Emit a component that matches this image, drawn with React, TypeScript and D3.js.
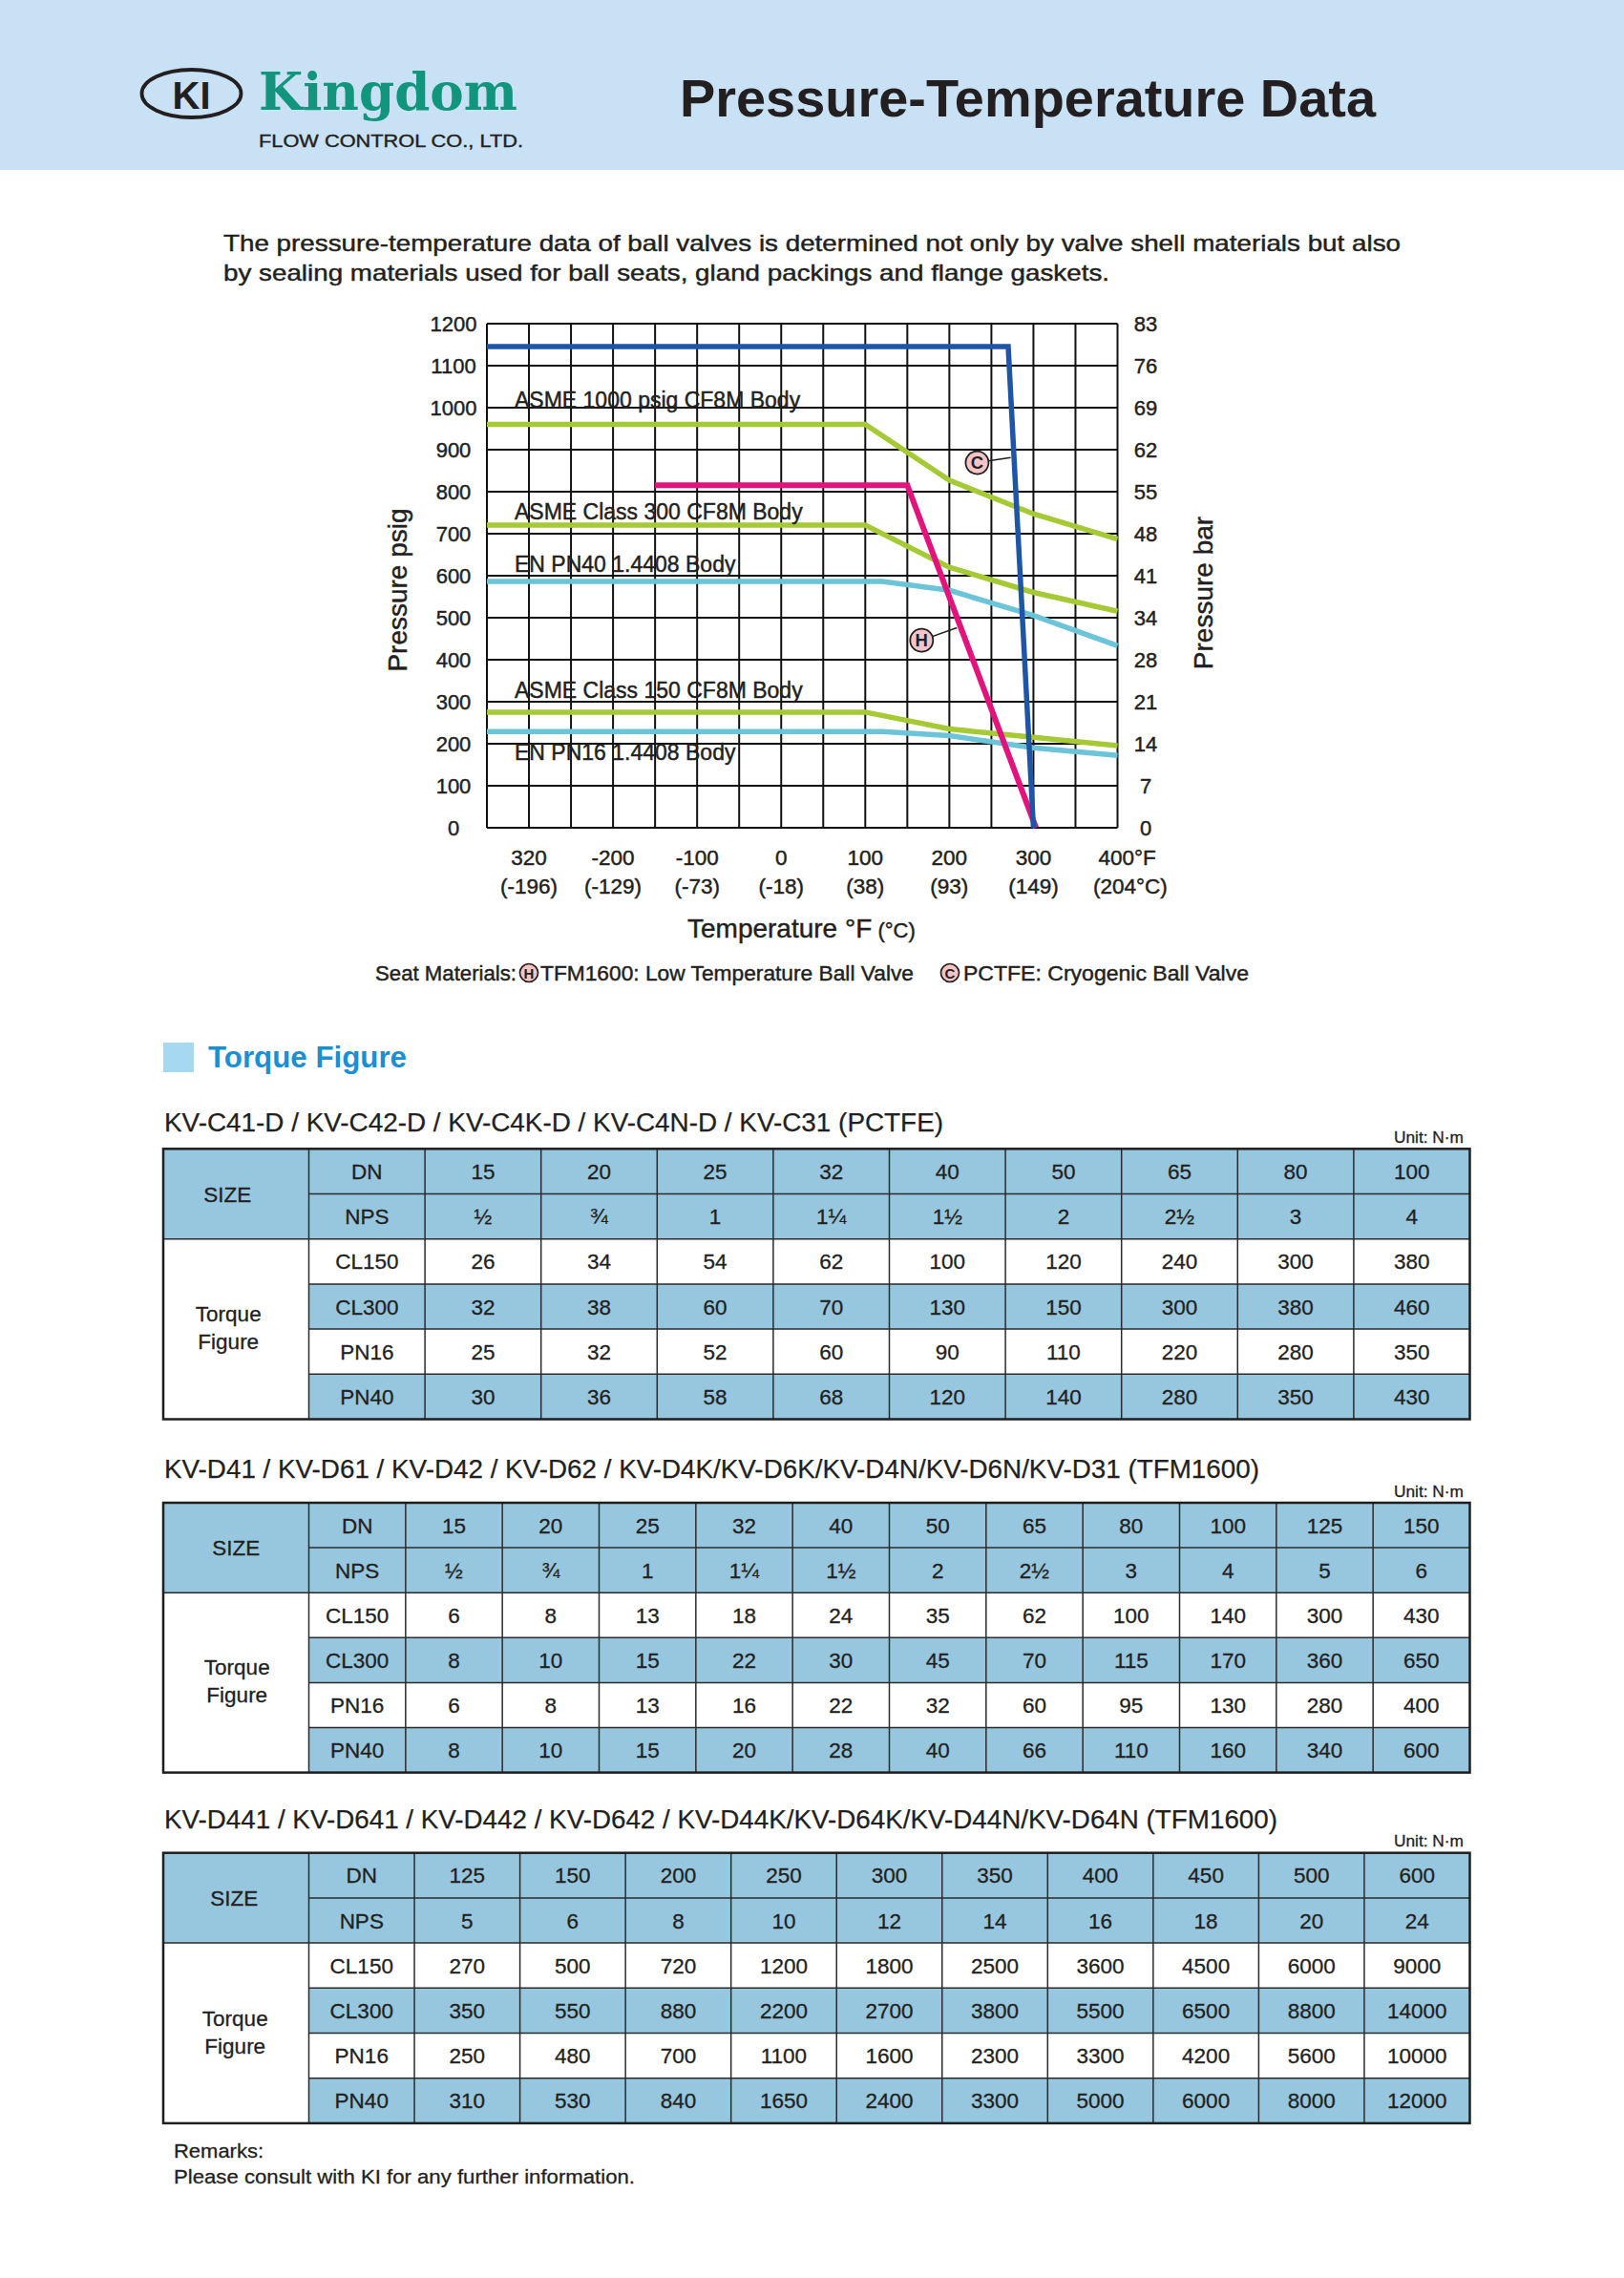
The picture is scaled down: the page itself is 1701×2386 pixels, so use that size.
import React from "react";
import * as d3 from "d3";

// ---------------- DATA ----------------
const tempTicksF = [-320, -200, -100, 0, 100, 200, 300, 400];
const tempLabelsF = ["320", "-200", "-100", "0", "100", "200", "300", "400°F"];
const tempLabelsC = ["(-196)", "(-129)", "(-73)", "(-18)", "(38)", "(93)", "(149)", "(204°C)"];
const psigTicks = [0, 100, 200, 300, 400, 500, 600, 700, 800, 900, 1000, 1100, 1200];
const barLabels = ["0", "7", "14", "21", "28", "34", "41", "48", "55", "62", "69", "76", "83"];

const asme1000: [number, number][] = [[-380, 960], [100, 960], [200, 827], [300, 747], [400, 687]];
const asme300: [number, number][] = [[-380, 720], [100, 720], [200, 620], [300, 560], [400, 515]];
const pn40: [number, number][] = [[-380, 586], [120, 586], [200, 565], [300, 505], [400, 433]];
const asme150: [number, number][] = [[-380, 275], [100, 275], [200, 235], [300, 215], [400, 195]];
const pn16: [number, number][] = [[-380, 229], [120, 229], [200, 219], [300, 190], [400, 172]];
const tfm1600: [number, number][] = [[-150, 815], [150, 815], [303, 0]];
const pctfe: [number, number][] = [[-380, 1145], [270, 1145], [300, 0]];

const seriesLabels = ["ASME 1000 psig CF8M Body", "ASME Class 300 CF8M Body", "EN PN40 1.4408 Body", "ASME Class 150 CF8M Body", "EN PN16 1.4408 Body"];
const seriesLabelPsi = [1000, 735, 610, 310, 161];

const markerLetters = ["H", "C"];
const markerPos: [number, number][] = [[167, 446], [233, 869]];
const markerLead: [number, number][] = [[209, 476], [273, 881]];

// Tables
const t1DN = ["15", "20", "25", "32", "40", "50", "65", "80", "100"];
const t1NPS = ["½", "¾", "1", "1¼", "1½", "2", "2½", "3", "4"];
const t1CL150 = [26, 34, 54, 62, 100, 120, 240, 300, 380];
const t1CL300 = [32, 38, 60, 70, 130, 150, 300, 380, 460];
const t1PN16 = [25, 32, 52, 60, 90, 110, 220, 280, 350];
const t1PN40 = [30, 36, 58, 68, 120, 140, 280, 350, 430];

const t2DN = ["15", "20", "25", "32", "40", "50", "65", "80", "100", "125", "150"];
const t2NPS = ["½", "¾", "1", "1¼", "1½", "2", "2½", "3", "4", "5", "6"];
const t2CL150 = [6, 8, 13, 18, 24, 35, 62, 100, 140, 300, 430];
const t2CL300 = [8, 10, 15, 22, 30, 45, 70, 115, 170, 360, 650];
const t2PN16 = [6, 8, 13, 16, 22, 32, 60, 95, 130, 280, 400];
const t2PN40 = [8, 10, 15, 20, 28, 40, 66, 110, 160, 340, 600];

const t3DN = ["125", "150", "200", "250", "300", "350", "400", "450", "500", "600"];
const t3NPS = ["5", "6", "8", "10", "12", "14", "16", "18", "20", "24"];
const t3CL150 = [270, 500, 720, 1200, 1800, 2500, 3600, 4500, 6000, 9000];
const t3CL300 = [350, 550, 880, 2200, 2700, 3800, 5500, 6500, 8800, 14000];
const t3PN16 = [250, 480, 700, 1100, 1600, 2300, 3300, 4200, 5600, 10000];
const t3PN40 = [310, 530, 840, 1650, 2400, 3300, 5000, 6000, 8000, 12000];

const rowLabels = ["CL150", "CL300", "PN16", "PN40"];

// ---------------- STYLE ----------------
const FONT = "'Liberation Sans', Arial, Helvetica, sans-serif";
const INK = "#231f20";
const CELL_BLUE = "#96c7de";
const GREEN = "#a6c936";
const CYAN = "#6cc4d8";
const MAGENTA = "#e2137c";
const BLUE = "#1e55a5";

const PL = 510, PR = 1170.5, PT = 338.9, PB = 866.9;

function Table(props: {
  top: number; rowH: number; dn: string[]; nps: string[]; rows: number[][];
  title: string; titleLen: number; titleGap: number; sizeDx: number;
}) {
  const { top, rowH, dn, nps, rows, title, titleLen, titleGap, sizeDx } = props;
  const left = 171, width = 1368.5, sizeW = 152.5;
  const right = left + width;
  const ncols = dn.length + 1;
  const col = d3.scaleBand<number>().domain(d3.range(ncols)).range([left + sizeW, right]).padding(0);
  const cw = col.bandwidth();
  const rowY = (r: number) => top + r * rowH;
  const base = (r: number) => rowY(r) + rowH / 2 + 8;
  const bodyC = top + 4 * rowH;
  const sizeCx = left + sizeW / 2 + sizeDx;
  const rowsText: string[][] = [
    ["DN", ...dn],
    ["NPS", ...nps],
    ...rows.map((vals, i) => [rowLabels[i], ...vals.map(String)]),
  ];
  return (
    <g fontFamily={FONT} fill={INK}>
      <text x={left + 1} y={top - titleGap} fontSize={27} textLength={titleLen} lengthAdjust="spacingAndGlyphs" stroke={INK} strokeWidth={0.25}>{title}</text>
      <text x={1533} y={top - 6.5} fontSize={16.5} textAnchor="end" textLength={73} lengthAdjust="spacingAndGlyphs" stroke={INK} strokeWidth={0.3}>Unit: N·m</text>
      {/* fills */}
      <rect x={left} y={top} width={width} height={2 * rowH} fill={CELL_BLUE} />
      <rect x={left + sizeW} y={rowY(3)} width={width - sizeW} height={rowH} fill={CELL_BLUE} />
      <rect x={left + sizeW} y={rowY(5)} width={width - sizeW} height={rowH} fill={CELL_BLUE} />
      {/* lines */}
      <g stroke="#2b2b2b" strokeWidth={1.5}>
        {d3.range(ncols).map((i) => (
          <line key={"v" + i} x1={col(i)!} x2={col(i)!} y1={top} y2={rowY(6)} />
        ))}
        <line x1={left + sizeW} x2={right} y1={rowY(1)} y2={rowY(1)} />
        <line x1={left} x2={right} y1={rowY(2)} y2={rowY(2)} />
        {[3, 4, 5].map((r) => (
          <line key={"h" + r} x1={left + sizeW} x2={right} y1={rowY(r)} y2={rowY(r)} />
        ))}
      </g>
      <rect x={left} y={top} width={width} height={6 * rowH} fill="none" stroke="#1e1e1e" strokeWidth={2.5} />
      {/* text */}
      <g fontSize={22.5} textAnchor="middle" stroke={INK} strokeWidth={0.3}>
        <text x={sizeCx} y={top + rowH + 8}>SIZE</text>
        <text x={sizeCx + 1} y={bodyC - 8}>Torque</text>
        <text x={sizeCx + 1} y={bodyC + 21}>Figure</text>
        {rowsText.map((cells, r) =>
          cells.map((c, i) => (
            <text key={r + "-" + i} x={col(i)! + cw / 2} y={base(r)}>{c}</text>
          ))
        )}
      </g>
    </g>
  );
}

export default function App() {
  const gx = d3.scaleLinear().domain([0, 15]).range([PL, PR]);
  const x = d3.scaleLinear().domain([-380, -200, 400]).range([PL, gx(3), PR]);
  const y = d3.scaleLinear().domain([0, 1200]).range([PB, PT]);
  const line = d3.line<[number, number]>().x((d) => x(d[0])).y((d) => y(d[1]));

  const series = [
    { d: asme1000, c: GREEN, w: 5.5 },
    { d: asme300, c: GREEN, w: 5.5 },
    { d: asme150, c: GREEN, w: 5.5 },
    { d: pn40, c: CYAN, w: 5.5 },
    { d: pn16, c: CYAN, w: 5.5 },
    { d: tfm1600, c: MAGENTA, w: 6 },
    { d: pctfe, c: BLUE, w: 5.5 },
  ];

  const med = { stroke: INK, strokeWidth: 0.45 } as const;

  return (
    <svg width={1701} height={2386} viewBox="0 0 1701 2386"
      style={{ position: "absolute", left: 0, top: 0, display: "block", background: "#fff" }}
      fontFamily={FONT}>
      {/* Header band */}
      <rect x={0} y={0} width={1701} height={178} fill="#c8e1f4" />
      <ellipse cx={200.5} cy={98} rx={52} ry={25} fill="none" stroke="#231f20" strokeWidth={3.8} />
      <text x={200.5} y={114} fontSize={41} fontWeight="bold" textAnchor="middle" fill={INK} textLength={40} lengthAdjust="spacingAndGlyphs">KI</text>
      <text x={271} y={115} fontSize={54} fontWeight="bold" fontFamily="'DejaVu Serif', serif" fill="#12957d" textLength={271} lengthAdjust="spacingAndGlyphs">Kingdom</text>
      <text x={271} y={153.5} fontSize={17.5} fill={INK} textLength={277} lengthAdjust="spacingAndGlyphs" stroke={INK} strokeWidth={0.35}>FLOW CONTROL CO., LTD.</text>
      <text x={712} y={122} fontSize={56} fontWeight="bold" fill={INK} textLength={729} lengthAdjust="spacingAndGlyphs">Pressure-Temperature Data</text>

      {/* Intro */}
      <g fontSize={24} fill={INK} {...med}>
        <text x={234} y={262.5} textLength={1233} lengthAdjust="spacingAndGlyphs">The pressure-temperature data of ball valves is determined not only by valve shell materials but also</text>
        <text x={234} y={294} textLength={928} lengthAdjust="spacingAndGlyphs">by sealing materials used for ball seats, gland packings and flange gaskets.</text>
      </g>

      {/* Grid */}
      <g stroke="#111" strokeWidth={2}>
        {d3.range(16).map((i) => (
          <line key={"gv" + i} x1={gx(i)} x2={gx(i)} y1={PT} y2={PB} />
        ))}
        {psigTicks.map((p) => (
          <line key={"gh" + p} x1={PL} x2={PR} y1={y(p)} y2={y(p)} />
        ))}
      </g>

      {/* Series */}
      {series.map((s, i) => (
        <path key={"s" + i} d={line(s.d) || ""} fill="none" stroke={s.c} strokeWidth={s.w} strokeLinejoin="miter" strokeLinecap="butt" />
      ))}

      {/* Series labels */}
      <g fontSize={23} fill={INK} {...med}>
        {seriesLabels.map((t, i) => (
          <text key={t} x={x(-380) + 29} y={y(seriesLabelPsi[i])}>{t}</text>
        ))}
      </g>

      {/* Markers */}
      {markerLetters.map((L, i) => (
        <g key={L}>
          <line x1={x(markerPos[i][0])} y1={y(markerPos[i][1])} x2={x(markerLead[i][0])} y2={y(markerLead[i][1])} stroke={INK} strokeWidth={1.5} />
          <circle cx={x(markerPos[i][0])} cy={y(markerPos[i][1])} r={12} fill="#f5c4c6" stroke={INK} strokeWidth={1.8} />
          <text x={x(markerPos[i][0])} y={y(markerPos[i][1]) + 6.5} fontSize={18.5} fontWeight="bold" textAnchor="middle" fill={INK}>{L}</text>
        </g>
      ))}

      {/* Y axes */}
      <g fontSize={22} fill={INK} textAnchor="middle" {...med}>
        {psigTicks.map((p) => (
          <text key={"yl" + p} x={475} y={y(p) + 8}>{p}</text>
        ))}
        {psigTicks.map((p, i) => (
          <text key={"yr" + p} x={1200} y={y(p) + 8}>{barLabels[i]}</text>
        ))}
      </g>
      <text transform="translate(425.5,618) rotate(-90)" fontSize={28} textAnchor="middle" fill={INK} {...med}>Pressure psig</text>
      <text transform="translate(1270,621) rotate(-90)" fontSize={28} textAnchor="middle" fill={INK} {...med}>Pressure bar</text>

      {/* X axis labels */}
      <g fontSize={22.5} fill={INK} {...med}>
        {tempTicksF.map((t, i) => {
          const last = i === tempTicksF.length - 1;
          return (
            <g key={"xt" + t}>
              <text x={last ? x(t) - 20 : x(t)} y={905.7} textAnchor={last ? "start" : "middle"}>{tempLabelsF[i]}</text>
              <text x={last ? x(t) - 25.5 : x(t)} y={936} textAnchor={last ? "start" : "middle"}>{tempLabelsC[i]}</text>
            </g>
          );
        })}
      </g>
      <text x={720} y={981.7} fill={INK} {...med}>
        <tspan fontSize={28}>Temperature °F</tspan>
        <tspan fontSize={22}> (°C)</tspan>
      </text>

      {/* Legend */}
      <g fontSize={22.5} fill={INK} {...med}>
        <text x={393} y={1026.7} textLength={148} lengthAdjust="spacingAndGlyphs">Seat Materials:</text>
        <text x={566} y={1026.7} textLength={391} lengthAdjust="spacingAndGlyphs">TFM1600: Low Temperature Ball Valve</text>
        <text x={1009} y={1026.7} textLength={299} lengthAdjust="spacingAndGlyphs">PCTFE: Cryogenic Ball Valve</text>
      </g>
      {[554, 995].map((cx, i) => (
        <g key={"lg" + i}>
          <circle cx={cx} cy={1019} r={9.5} fill="#f5c4c6" stroke={INK} strokeWidth={1.7} />
          <text x={cx} y={1024.5} fontSize={15} fontWeight="bold" textAnchor="middle" fill={INK}>{markerLetters[i]}</text>
        </g>
      ))}

      {/* Torque Figure heading */}
      <rect x={171} y={1092} width={32} height={31} fill="#a6d8f2" />
      <text x={218} y={1118.3} fontSize={31} fontWeight="bold" fill="#1b8fd2" textLength={208} lengthAdjust="spacingAndGlyphs">Torque Figure</text>

      <Table top={1203.3} rowH={47.2} dn={t1DN} nps={t1NPS} rows={[t1CL150, t1CL300, t1PN16, t1PN40]}
        title="KV-C41-D / KV-C42-D / KV-C4K-D / KV-C4N-D / KV-C31 (PCTFE)" titleLen={816} titleGap={18} sizeDx={-9} />
      <Table top={1574} rowH={47.1} dn={t2DN} nps={t2NPS} rows={[t2CL150, t2CL300, t2PN16, t2PN40]}
        title="KV-D41 / KV-D61 / KV-D42 / KV-D62 / KV-D4K/KV-D6K/KV-D4N/KV-D6N/KV-D31 (TFM1600)" titleLen={1147} titleGap={25.7} sizeDx={0} />
      <Table top={1940.7} rowH={47.2} dn={t3DN} nps={t3NPS} rows={[t3CL150, t3CL300, t3PN16, t3PN40]}
        title="KV-D441 / KV-D641 / KV-D442 / KV-D642 / KV-D44K/KV-D64K/KV-D44N/KV-D64N (TFM1600)" titleLen={1166} titleGap={25.7} sizeDx={-2} />

      {/* Remarks */}
      <g fontSize={21} fill={INK} stroke={INK} strokeWidth={0.3}>
        <text x={182} y={2260} textLength={94} lengthAdjust="spacingAndGlyphs">Remarks:</text>
        <text x={182} y={2287} textLength={483} lengthAdjust="spacingAndGlyphs">Please consult with KI for any further information.</text>
      </g>
    </svg>
  );
}
